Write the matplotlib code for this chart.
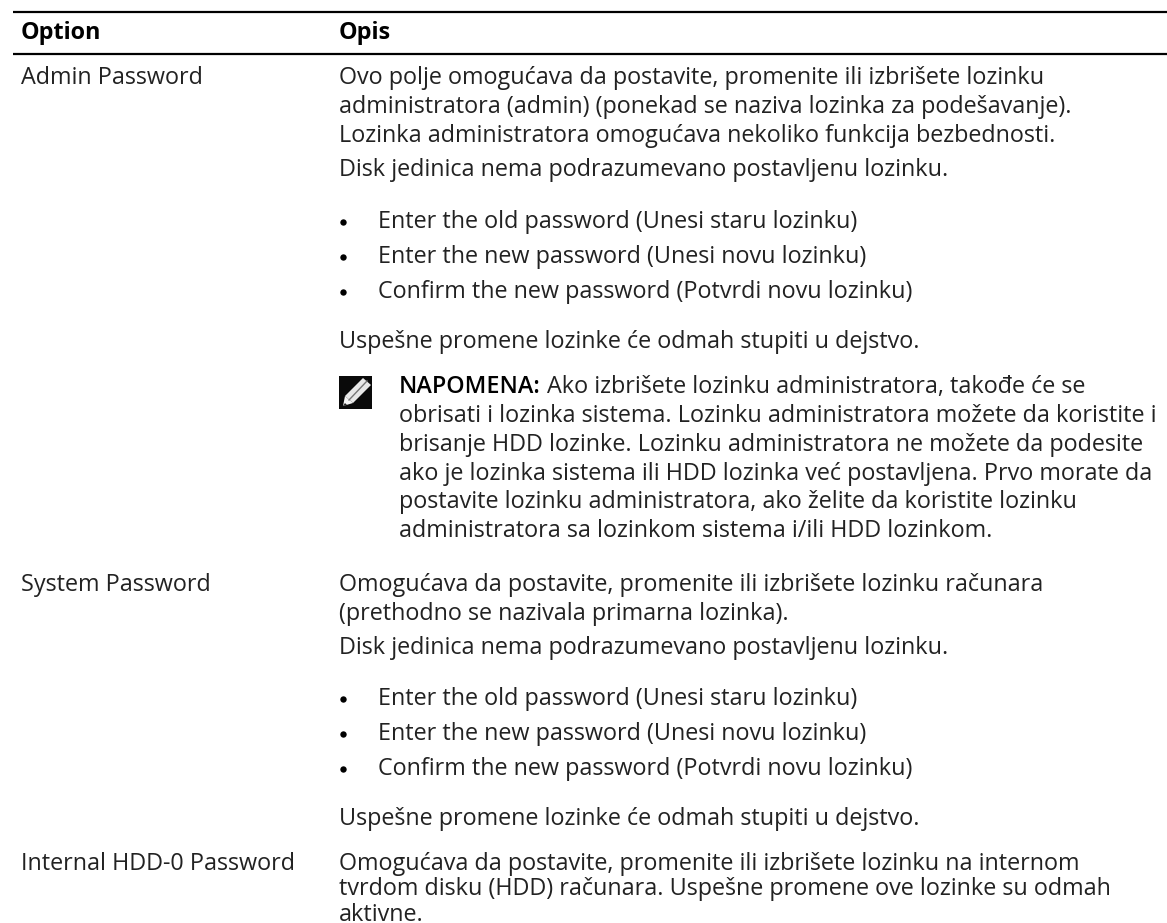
import matplotlib
matplotlib.use('Agg')
import matplotlib.pyplot as plt
from matplotlib.patches import Polygon, Rectangle

header = ['Option', 'Opis']
options = ['Admin Password', 'System Password', 'Internal HDD-0 Password']
option_y = [84, 591, 870]

admin_lines = [
    'Ovo polje omogućava da postavite, promenite ili izbrišete lozinku',
    'administratora (admin) (ponekad se naziva lozinka za podešavanje).',
    'Lozinka administratora omogućava nekoliko funkcija bezbednosti.',
    'Disk jedinica nema podrazumevano postavljenu lozinku.',
    'Uspešne promene lozinke će odmah stupiti u dejstvo.',
]
admin_y = [84, 113, 142, 176, 348]
bullets = [
    'Enter the old password (Unesi staru lozinku)',
    'Enter the new password (Unesi novu lozinku)',
    'Confirm the new password (Potvrdi novu lozinku)',
]
admin_bullet_y = [228, 263, 298]
note_head = 'NAPOMENA:'
note_first = 'Ako izbrišete lozinku administratora, takođe će se'
note_lines = [
    'obrisati i lozinka sistema. Lozinku administratora možete da koristite i',
    'brisanje HDD lozinke. Lozinku administratora ne možete da podesite',
    'ako je lozinka sistema ili HDD lozinka već postavljena. Prvo morate da',
    'postavite lozinku administratora, ako želite da koristite lozinku',
    'administratora sa lozinkom sistema i/ili HDD lozinkom.',
]
note_y = [393, 422, 451, 480, 508, 537]
system_lines = [
    'Omogućava da postavite, promenite ili izbrišete lozinku računara',
    '(prethodno se nazivala primarna lozinka).',
    'Disk jedinica nema podrazumevano postavljenu lozinku.',
    'Uspešne promene lozinke će odmah stupiti u dejstvo.',
]
system_y = [591, 620, 654, 825]
system_bullet_y = [705, 740, 775]
hdd_lines = [
    'Omogućava da postavite, promenite ili izbrišete lozinku na internom',
    'tvrdom disku (HDD) računara. Uspešne promene ove lozinke su odmah',
    'aktivne.',
]
hdd_y = [870, 895, 921]

plt.rcParams['font.family'] = ['Open Sans', 'DejaVu Sans']
color = '#222222'
fs = 16.8

fig = plt.figure(figsize=(11.67, 9.23), dpi=100)
ax = fig.add_axes([0, 0, 1, 1])
ax.set_xlim(0, 1167)
ax.set_ylim(923, 0)
ax.axis('off')

ax.plot([13, 1167], [12, 12], color='black', lw=1.6, solid_capstyle='butt')
ax.plot([13, 1167], [54, 54], color='black', lw=1.6, solid_capstyle='butt')

col1 = 21
col2 = 339
bullet_x = 343
bullet_text = 378
note_x = 399


def put(x, y, s, **kw):
    kw.setdefault('color', color)
    kw.setdefault('fontsize', fs)
    ax.text(x, y, s, va='baseline', **kw)


put(col1, 39, header[0], fontweight='bold', color='black')
put(col2, 39, header[1], fontweight='bold', color='black')

for name, y in zip(options, option_y):
    put(col1, y, name)

for lines, ys in [(admin_lines, admin_y), (system_lines, system_y), (hdd_lines, hdd_y)]:
    for line, y in zip(lines, ys):
        put(col2, y, line)

for ys in [admin_bullet_y, system_bullet_y]:
    for line, y in zip(bullets, ys):
        ax.plot(bullet_x, y - 6, 'o', color='black', ms=4.6, mew=0)
        put(bullet_text, y, line)

put(note_x, note_y[0], note_head, color='black', fontweight='semibold')
put(547, note_y[0], note_first)
for line, y in zip(note_lines, note_y[1:]):
    put(note_x, y, line)

# pencil icon on a black square
ax.add_patch(Rectangle((339, 376), 33, 33, color='#0a0a0a', lw=0))
ax.add_patch(Polygon([[363, 378], [371, 385], [353, 403], [345, 396]], color='#e8e8e8', lw=0))
ax.add_patch(Polygon([[345, 396], [353, 403], [343, 406]], color='#f5f5f5', lw=0))
ax.plot([349, 367], [400, 381], color='#777777', lw=1)
ax.add_patch(Polygon([[345, 403], [347, 405], [343, 406]], color='#222222', lw=0))

fig.savefig('out.png', dpi=100)
